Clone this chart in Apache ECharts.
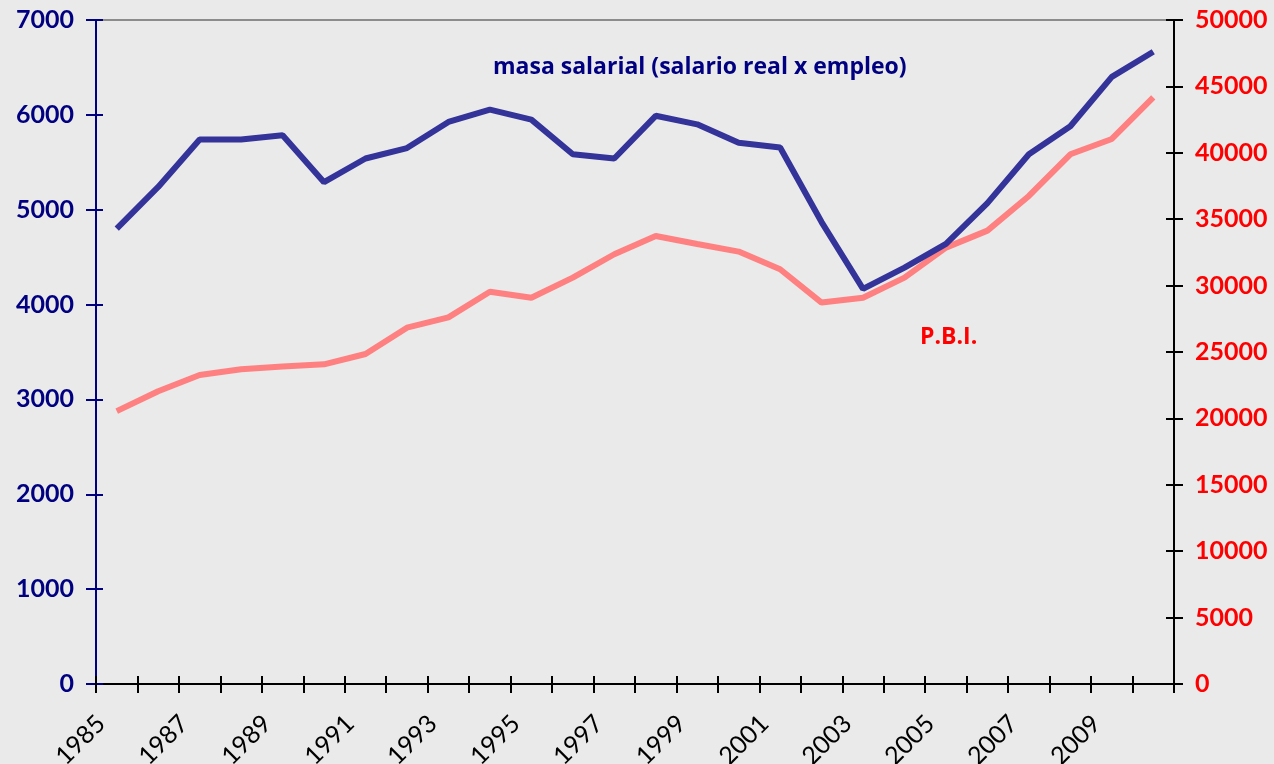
<!DOCTYPE html>
<html>
<head>
<meta charset="utf-8">
<title>masa salarial vs P.B.I.</title>
<script src="https://cdn.jsdelivr.net/npm/echarts@6/dist/echarts.min.js"></script>
<style>
  html, body { margin: 0; padding: 0; background: #eaeaea; }
  #chart { width: 1274px; height: 764px; }
</style>
</head>
<body>
<div id="chart"></div>
<script>
const years = [
  "1985", "1986", "1987", "1988", "1989", "1990", "1991", "1992", "1993",
  "1994", "1995", "1996", "1997", "1998", "1999", "2000", "2001", "2002",
  "2003", "2004", "2005", "2006", "2007", "2008", "2009", "2010",
];
// left axis
const masaSalarial = [
  4800, 5240, 5740, 5740, 5785, 5290, 5540, 5650, 5925, 6055, 5950, 5585,
  5540, 5990, 5900, 5705, 5655, 4870, 4165, 4390, 4640, 5070, 5585, 5880,
  6400, 6665,
];
// right axis
const pbi = [
  20550, 22050, 23270, 23700, 23900, 24070, 24850, 26830, 27610, 29540,
  29090, 30600, 32360, 33740, 33130, 32560, 31230, 28720, 29090, 30600,
  32860, 34140, 36750, 39890, 41040, 44180,
];
const leftTicks = { min: 0, max: 7000, interval: 1000 };
const rightTicks = { min: 0, max: 50000, interval: 5000 };

const navy = "#000080";
const red = "#ff0000";
const font = "Lato";
const plain = (v) => String(v);

const chart = echarts.init(document.getElementById("chart"));

const option = {
  backgroundColor: "#eaeaea",
  animation: false,
  grid: {
    left: 96,
    right: 100,
    top: 20,
    bottom: 80,
    outerBoundsMode: "none",
  },
  xAxis: [
    {
      type: "category",
      data: years,
      position: "bottom",
      boundaryGap: true,
      axisLine: { onZero: false, lineStyle: { color: "#000", width: 2 } },
      axisTick: {
        show: true,
        interval: 0,
        length: 9,
        lineStyle: { color: "#000", width: 2 },
      },
      axisLabel: {
        interval: 1,
        rotate: 45,
        margin: 20,
        formatter: (v) => "{y|" + v + "}",
        rich: {
          y: {
            padding: [0, 22, 0, 0],
            color: "#000",
            fontFamily: font,
            fontSize: 25,
          },
        },
      },
      splitLine: { show: false },
    },
    {
      type: "category",
      data: years,
      position: "bottom",
      axisLine: { show: false, onZero: false },
      axisTick: {
        show: true,
        inside: true,
        interval: 0,
        length: 8,
        lineStyle: { color: "#000", width: 2 },
      },
      axisLabel: { show: false },
      splitLine: { show: false },
    },
    {
      type: "category",
      data: years,
      position: "top",
      axisLine: { onZero: false, lineStyle: { color: "#8c8c8c", width: 2 } },
      axisTick: { show: false },
      axisLabel: { show: false },
      splitLine: { show: false },
    },
  ],
  yAxis: [
    {
      type: "value",
      position: "left",
      ...leftTicks,
      axisLine: { show: true, onZero: false, lineStyle: { color: navy, width: 2 } },
      axisTick: { show: true, length: 10, lineStyle: { color: navy, width: 2 } },
      axisLabel: {
        margin: 22,
        formatter: plain,
        color: navy,
        fontFamily: font,
        fontWeight: "bold",
        fontSize: 25,
      },
      splitLine: { show: false },
    },
    {
      type: "value",
      position: "right",
      ...rightTicks,
      axisLine: { show: true, onZero: false, lineStyle: { color: "#000", width: 2 } },
      axisTick: { show: true, length: 9, lineStyle: { color: "#000", width: 2 } },
      axisLabel: {
        margin: 21,
        formatter: plain,
        color: red,
        fontFamily: font,
        fontWeight: "bold",
        fontSize: 25,
      },
      splitLine: { show: false },
    },
    {
      type: "value",
      position: "left",
      ...leftTicks,
      axisLine: { show: false, onZero: false },
      axisTick: { show: true, inside: true, length: 7, lineStyle: { color: navy, width: 2 } },
      axisLabel: { show: false },
      splitLine: { show: false },
    },
    {
      type: "value",
      position: "right",
      ...rightTicks,
      axisLine: { show: false, onZero: false },
      axisTick: { show: true, inside: true, length: 8, lineStyle: { color: "#000", width: 2 } },
      axisLabel: { show: false },
      splitLine: { show: false },
    },
  ],
  graphic: [
    {
      type: "text",
      left: 493,
      top: 56,
      style: {
        text: "masa salarial (salario real x empleo)",
        fill: navy,
        font: "bold 23px 'Open Sans'",
      },
    },
    {
      type: "text",
      left: 920,
      top: 326,
      style: {
        text: "P.B.I.",
        fill: red,
        font: "bold 23px 'Open Sans'",
      },
    },
  ],
  series: [
    {
      name: "P.B.I.",
      type: "line",
      xAxisIndex: 0,
      yAxisIndex: 1,
      data: pbi,
      symbol: "none",
      lineStyle: { color: "#ff8080", width: 6 },
      z: 2,
    },
    {
      name: "masa salarial",
      type: "line",
      xAxisIndex: 0,
      yAxisIndex: 0,
      data: masaSalarial,
      symbol: "none",
      lineStyle: { color: "#333399", width: 6 },
      z: 3,
    },
  ],
};

chart.setOption(option);
</script>
</body>
</html>
